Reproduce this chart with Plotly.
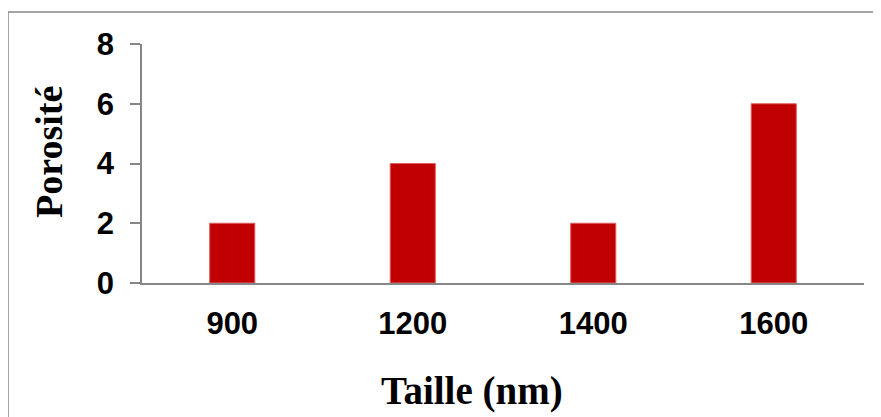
import plotly.graph_objects as go

categories = ["900", "1200", "1400", "1600"]
porosite = [2, 4, 2, 6]
y_ticks = [0, 2, 4, 6, 8]

# page has an 8px body margin; compensate so plot lands at page coords
OFF = 8
W, H = 881 - OFF, 417 - OFF
L, R, T, B = 142 - OFF, 17, 44 - OFF, 134
pw, ph = W - L - R, H - T - B


def px_x(page_x):
    return (page_x - OFF - L) / pw


def px_y(page_y):
    return 1 - (page_y - OFF - T) / ph


fig = go.Figure(go.Bar(
    x=categories, y=porosite,
    marker=dict(color="#C00000", line=dict(color="#E06060", width=1)),
))

fig.update_layout(
    width=W, height=H,
    margin=dict(l=L, r=R, t=T, b=B),
    paper_bgcolor="white", plot_bgcolor="white",
    bargap=0.75, showlegend=False,
    font=dict(family="Liberation Sans, Arial", color="black"),
)
fig.update_xaxes(
    type="category", showline=True, linecolor="#868686", linewidth=1.5,
    showgrid=False, ticks="", ticklabelstandoff=12,
    tickfont=dict(size=31, family="Liberation Sans, Arial", weight="bold"),
)
fig.update_yaxes(
    range=[0, 8], tickvals=y_ticks, showline=True, linecolor="#868686", linewidth=1.5,
    showgrid=False, zeroline=False, ticks="outside", ticklen=10, tickcolor="#868686",
    tickwidth=1.5, ticklabelstandoff=10,
    tickfont=dict(size=31, family="Liberation Sans, Arial", weight="bold"),
)

fig.add_annotation(
    text="<b>Taille (nm)</b>", xref="paper", yref="paper",
    x=px_x(472), y=px_y(391), xanchor="center", yanchor="middle",
    showarrow=False, font=dict(size=39, family="Liberation Serif, Times New Roman"),
)
fig.add_annotation(
    text="<b>Porosité</b>", xref="paper", yref="paper", textangle=-90,
    x=px_x(49), y=px_y(152), xanchor="center", yanchor="middle",
    showarrow=False, font=dict(size=38, family="Liberation Serif, Times New Roman"),
)
fig.add_shape(
    type="rect", xref="paper", yref="paper",
    x0=px_x(8), x1=px_x(900),
    y0=px_y(440), y1=px_y(12),
    line=dict(color="#888888", width=1.5), fillcolor="rgba(0,0,0,0)", layer="below",
)

fig.write_html("out.html")
